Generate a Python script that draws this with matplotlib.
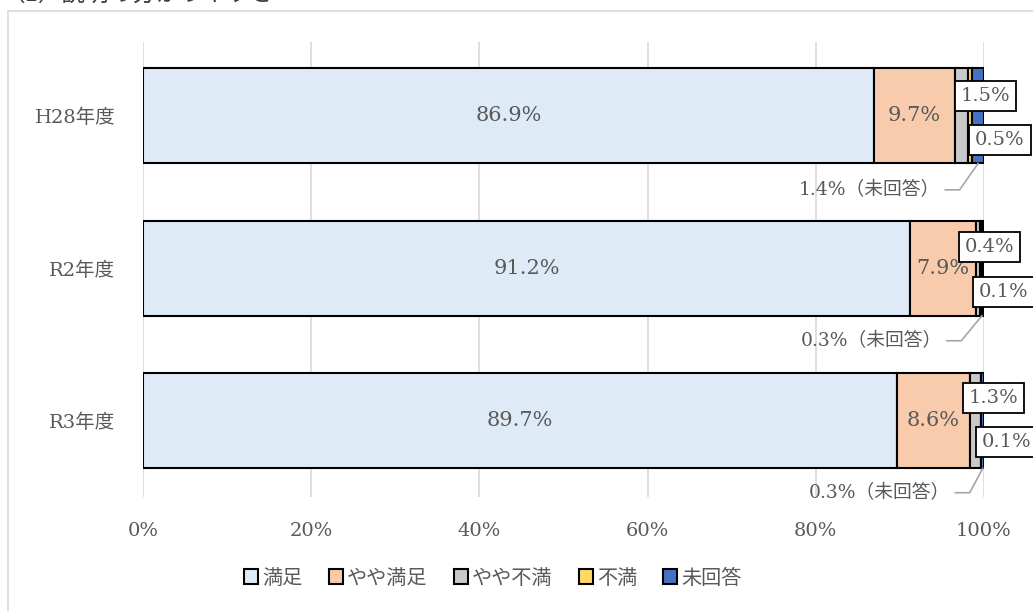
import matplotlib.pyplot as plt
import matplotlib.patches as patches
import numpy as np

plt.rcParams['font.family'] = ['DejaVu Serif', 'Noto Sans CJK JP']

# data
years = ['H28年度', 'R2年度', 'R3年度']
cats = ['満足', 'やや満足', 'やや不満', '不満', '未回答']
manzoku = [86.9, 91.2, 89.7]
yaya_manzoku = [9.7, 7.9, 8.6]
yaya_fuman = [1.5, 0.4, 1.3]
fuman = [0.5, 0.1, 0.1]
mikaito = [1.4, 0.3, 0.3]
colors = ['#DEEBF7', '#F8CBAD', '#C9C9C9', '#FFD966', '#4472C4']
txt = '#595959'

series = [manzoku, yaya_manzoku, yaya_fuman, fuman, mikaito]

fig = plt.figure(figsize=(10.33, 6.11), dpi=100)
ax = fig.add_axes([143/1033, 1-497/611, 841/1033, 455/611])

# chart border and cut-off title
fig.patches.append(patches.Rectangle((8/1033, -0.1), 1.2, 1-11/611+0.1,
                                     transform=fig.transFigure, fill=False,
                                     edgecolor='#D9D9D9', lw=1.2))
fig.text(2/1033, 1+6/611, '（1）説明の分かりやすさ', fontsize=17, color='#404040',
         va='center', ha='left', family=['Noto Sans CJK JP'])

y = np.arange(len(years))
h = 0.623
left = np.zeros(len(years))
for vals, c, name in zip(series, colors, cats):
    ax.barh(y, vals, left=left, height=h, color=c, edgecolor='black', lw=1.5,
            label=name, zorder=3)
    left = left + np.array(vals)

ax.set_xlim(0, 100)
ax.set_ylim(2.5, -0.485)
ax.set_xticks(np.arange(0, 101, 20))
ax.set_xticklabels([f'{v}%' for v in range(0, 101, 20)])
ax.set_yticks(y)
ax.set_yticklabels(years)
ax.grid(axis='x', color='#D9D9D9', lw=1.2, zorder=0)
for s in ax.spines.values():
    s.set_visible(False)
ax.tick_params(length=0, labelsize=14, labelcolor=txt)
ax.tick_params(axis='x', pad=18)
ax.tick_params(axis='y', pad=20)

# labels inside big segments
for i in range(len(years)):
    ax.text(manzoku[i]/2, i, f'{manzoku[i]}%', ha='center', va='center',
            fontsize=15, color=txt, zorder=5)
    ax.text(manzoku[i] + yaya_manzoku[i]/2, i, f'{yaya_manzoku[i]}%', ha='center',
            va='center', fontsize=15, color=txt, zorder=5)

# boxed labels for small segments
box = dict(boxstyle='square,pad=0.3', fc='white', ec='black', lw=1.3)
pos_a = [(100.2, -0.13), (100.65, 0.859), (101.1, 1.852)]
pos_b = [(101.9, 0.157), (102.3, 1.157), (102.7, 2.138)]
for i in range(len(years)):
    ax.text(*pos_a[i], f'{yaya_fuman[i]}%', ha='center', va='center',
            fontsize=14, color=txt, bbox=box, zorder=6, clip_on=False)
    ax.text(*pos_b[i], f'{fuman[i]}%', ha='center', va='center',
            fontsize=14, color=txt, bbox=box, zorder=6, clip_on=False)

# 未回答 callouts
tx = [94.8, 95.0, 96.0]
ty = [0.485, 1.475, 2.472]
for i in range(len(years)):
    end = left[i] - mikaito[i]/2
    ax.text(tx[i], ty[i], f'{mikaito[i]}%（未回答）', ha='right', va='center',
            fontsize=13.5, color=txt, zorder=5)
    ax.plot([tx[i] + 0.6, tx[i] + 2.3, end], [ty[i], ty[i], i + h/2],
            color='#A6A6A6', lw=1.2, clip_on=False, zorder=4)

fig.legend(loc='center', bbox_to_anchor=(493/1033, 1-578/611), ncol=5,
           frameon=False, fontsize=14.5, handlelength=0.7, handleheight=0.7,
           handletextpad=0.2, columnspacing=1.3, labelcolor=txt)

fig.savefig('out.png', dpi=100)
